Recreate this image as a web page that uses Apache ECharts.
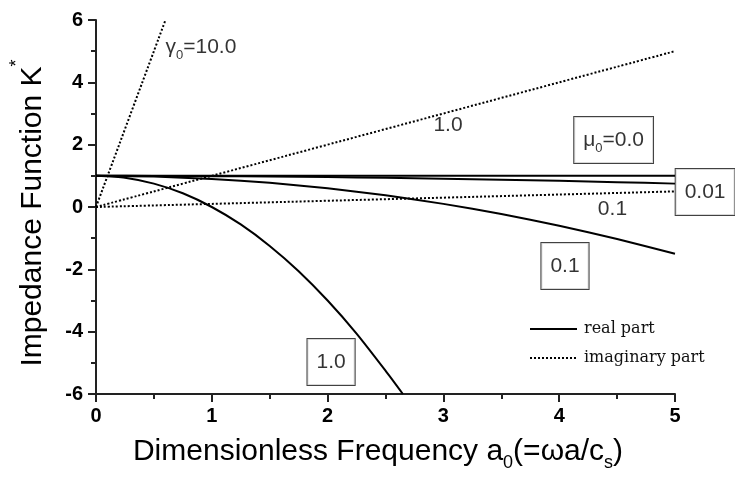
<!DOCTYPE html>
<html>
<head>
<meta charset="utf-8">
<script src="https://cdn.jsdelivr.net/npm/echarts@6/dist/echarts.min.js"></script>
<style>
html, body { margin: 0; padding: 0; background: #fff; }
#chart { width: 735px; height: 485px; }
</style>
</head>
<body>
<div id="chart"></div>
<script>
// frequency samples a0
var freq = [0, 0.5, 1, 1.5, 2, 2.5, 3, 3.5, 4, 4.5, 5];
// real parts for mu0 = 0.0, 0.01, 0.1
var realMu000 = [1, 1, 1, 1, 1, 1, 1, 1, 1, 1, 1];
var realMu001 = [1, 0.998, 0.99, 0.978, 0.96, 0.938, 0.91, 0.878, 0.84, 0.798, 0.75];
var realMu01 = [1, 0.975, 0.9, 0.775, 0.6, 0.375, 0.1, -0.225, -0.6, -1.025, -1.5];
// real part for mu0 = 1.0 (runs off the bottom near 2.65)
var freqMu1 = [0, 0.25, 0.5, 0.75, 1, 1.25, 1.5, 1.75, 2, 2.25, 2.5, 2.65];
var realMu1 = [1, 0.94, 0.75, 0.44, 0, -0.56, -1.25, -2.06, -3, -4.06, -5.25, -6.0];
// imaginary parts (straight lines)
var freqImag = [0, 5];
var imagG01 = [0, 0.5];
var imagG1 = [0, 5];
var freqG10 = [0, 0.6];
var imagG10 = [0, 6];

var xTicks = [0, 1, 2, 3, 4, 5];
var yTicks = [-6, -4, -2, 0, 2, 4, 6];

function pairs(xs, ys) {
    return xs.map(function (x, i) { return [x, ys[i]]; });
}

var sub = { fontSize: 13, lineHeight: 12, verticalAlign: 'bottom', fontFamily: 'Liberation Sans' };
var txt = { fontSize: 21, lineHeight: 30, fontFamily: 'Liberation Sans' };
var boxStyle = {
    borderColor: '#111', borderWidth: 1, backgroundColor: '#fff',
    padding: [8, 9, 8, 9]
};

// annotation labels (text, a0, K)
var notes = [
    { text: '{t|γ}{s|0}{t|=10.0}', at: [0.6, 5.13], box: false, align: 'left' },
    { text: '{t|1.0}', at: [3.04, 2.63], box: false },
    { text: '{t|0.1}', at: [4.46, -0.06], box: false },
    { text: '{t|μ}{s|0}{t|=0.0}', at: [4.47, 2.15], box: true },
    { text: '{t|0.01}', at: [5.26, 0.48], box: true },
    { text: '{t|0.1}', at: [4.05, -1.89], box: true },
    { text: '{t|1.0}', at: [2.03, -4.97], box: true }
];

var realLine = { color: '#000', width: 2, type: 'solid' };
var imagLine = { color: '#000', width: 2, type: [2, 2] };

function lineSeries(name, data, style) {
    return {
        name: name, type: 'line', data: data, symbol: 'none', showSymbol: false,
        smooth: 0.2, lineStyle: style, itemStyle: { color: '#000' },
        animation: false
    };
}

var option = {
    animation: false,
    grid: { left: 95, right: 60, top: 20, bottom: 91 },
    legend: {
        data: ['real part', 'imaginary part'],
        orient: 'vertical',
        left: 529, top: 321, padding: 0,
        itemWidth: 47, itemHeight: 14, itemGap: 13,
        itemStyle: { opacity: 0 },
        textStyle: { fontFamily: 'DejaVu Serif', fontSize: 16, color: '#111', padding: [0, 0, 0, 2] }
    },
    xAxis: {
        type: 'value', min: 0, max: 5, interval: 1,
        name: '{t|Dimensionless Frequency a}{s|0}{t|(=ωa/c}{s|s}{t|)}',
        nameLocation: 'middle', nameGap: 38,
        nameTextStyle: {
            color: '#000', padding: [0, 15, 0, 0],
            rich: {
                t: { fontSize: 30, lineHeight: 40, fontFamily: 'Liberation Sans', color: '#000' },
                s: { fontSize: 18, lineHeight: 16, verticalAlign: 'bottom', fontFamily: 'Liberation Sans', color: '#000' }
            }
        },
        axisLine: { onZero: false, lineStyle: { color: '#222', width: 2 } },
        axisTick: { inside: false, length: 8, lineStyle: { color: '#222', width: 2 } },
        minorTick: { show: true, splitNumber: 2, length: 5, lineStyle: { color: '#222', width: 2 } },
        splitLine: { show: false },
        axisLabel: {
            margin: 12, color: '#000', fontSize: 20, fontWeight: 'bold', fontFamily: 'Liberation Sans',
            formatter: function (v) { return xTicks.indexOf(v) >= 0 ? String(v) : ''; }
        }
    },
    yAxis: {
        type: 'value', min: -6, max: 6, interval: 2,
        name: '{t|Impedance Function K}{p|*}',
        nameLocation: 'middle', nameGap: 38, nameRotate: 90,
        nameTextStyle: {
            color: '#000', padding: [0, 12, 0, 0],
            rich: {
                t: { fontSize: 30, lineHeight: 50, fontFamily: 'Liberation Sans', color: '#000' },
                p: { fontSize: 18, lineHeight: 14, verticalAlign: 'top', fontFamily: 'Liberation Sans', color: '#000' }
            }
        },
        axisLine: { show: true, onZero: false, lineStyle: { color: '#222', width: 2 } },
        axisTick: { inside: false, length: 8, lineStyle: { color: '#222', width: 2 } },
        minorTick: { show: true, splitNumber: 2, length: 5, lineStyle: { color: '#222', width: 2 } },
        splitLine: { show: false },
        axisLabel: {
            margin: 13, color: '#000', fontSize: 20, fontWeight: 'bold', fontFamily: 'Liberation Sans',
            formatter: function (v) { return yTicks.indexOf(v) >= 0 ? String(v) : ''; }
        }
    },
    series: [
        lineSeries('real part', pairs(freq, realMu000), realLine),
        lineSeries('real part', pairs(freq, realMu001), realLine),
        lineSeries('real part', pairs(freq, realMu01), realLine),
        lineSeries('real part', pairs(freqMu1, realMu1), realLine),
        lineSeries('imaginary part', pairs(freqImag, imagG01), imagLine),
        lineSeries('imaginary part', pairs(freqImag, imagG1), imagLine),
        lineSeries('imaginary part', pairs(freqG10, imagG10), imagLine),
        {
            name: 'notes', type: 'scatter', symbolSize: 0, clip: false, z: 5,
            silent: true,
            data: notes.map(function (n) {
                var lab = {
                    show: true, position: n.align === 'left' ? 'right' : 'inside',
                    distance: 0,
                    formatter: n.text, color: '#000',
                    rich: { t: txt, s: sub }
                };
                if (n.box) Object.assign(lab, boxStyle);
                return { value: n.at, label: lab };
            })
        }
    ]
};

var myChart = echarts.init(document.getElementById('chart'));
myChart.setOption(option, true);
</script>
</body>
</html>
